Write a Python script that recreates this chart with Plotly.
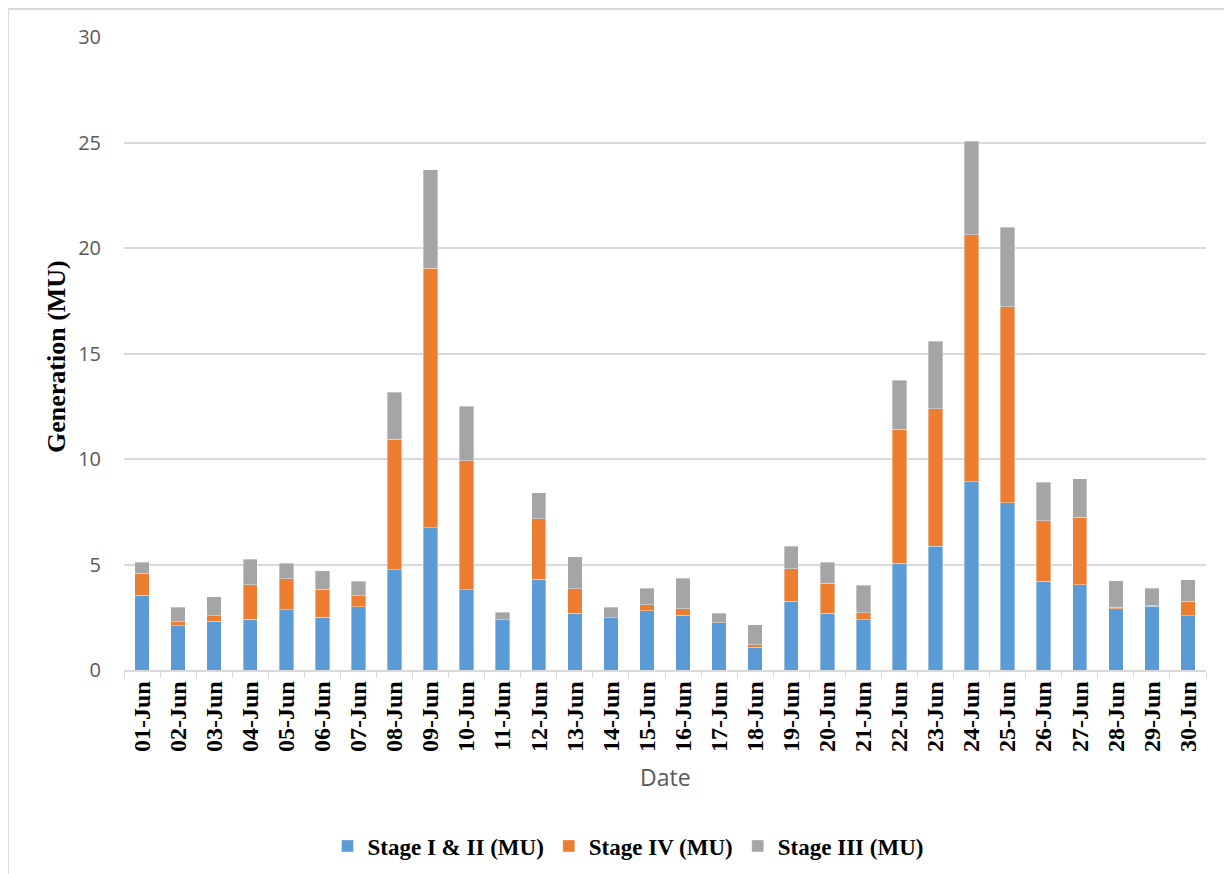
import plotly.graph_objects as go

dates = [f"{d:02d}-Jun" for d in range(1, 31)]
stage_1_2 = [3.55, 2.10, 2.31, 2.40, 2.86, 2.50, 3.00, 4.75, 6.74, 3.81, 2.38, 4.31, 2.69, 2.48, 2.80,
             2.59, 2.24, 1.08, 3.27, 2.69, 2.38, 5.06, 5.86, 8.92, 7.93, 4.20, 4.04, 2.91, 3.02, 2.57]
stage_4 = [1.03, 0.19, 0.26, 1.63, 1.47, 1.32, 0.52, 6.18, 12.30, 6.11, 0.00, 2.86, 1.16, 0.00, 0.30,
           0.32, 0.00, 0.12, 1.52, 1.42, 0.34, 6.35, 6.51, 11.70, 9.29, 2.88, 3.20, 0.06, 0.02, 0.69]
stage_3 = [0.52, 0.68, 0.89, 1.23, 0.74, 0.89, 0.68, 2.24, 4.66, 2.59, 0.35, 1.23, 1.51, 0.49, 0.77,
           1.45, 0.45, 0.95, 1.07, 0.99, 1.29, 2.32, 3.22, 4.44, 3.76, 1.82, 1.83, 1.25, 0.83, 1.02]

series = [
    ("Stage I & II (MU)", stage_1_2, "#5B9BD5"),
    ("Stage IV (MU)", stage_4, "#ED7D31"),
    ("Stage III (MU)", stage_3, "#A5A5A5"),
]

fig = go.Figure()
for name, vals, color in series:
    fig.add_trace(go.Bar(
        x=dates, y=vals, name=name,
        marker=dict(color=color, line=dict(color="rgba(255,255,255,0.6)", width=0.6)),
    ))

# page body has an 8px margin; work in screen coordinates and convert
OFF = 8
W, H = 1232 - OFF, 874 - OFF
L, R, T, B = 124 - OFF, 26, 37 - OFF, 874 - 670
pw, ph = W - L - R, H - T - B

def px(x):
    return (x - OFF - L) / pw

def py(y):
    return (H - B - (y - OFF)) / ph

fig.update_layout(
    width=W, height=H,
    margin=dict(l=L, r=R, t=T, b=B, autoexpand=False),
    barmode="stack",
    bargap=0.6,
    plot_bgcolor="white",
    paper_bgcolor="white",
    showlegend=True,
    legend=dict(
        orientation="h", x=px(628), xanchor="center", y=py(846), yanchor="middle",
        font=dict(family="Liberation Serif", size=23, color="black", weight="bold"),
        traceorder="normal", itemwidth=30,
    ),
    xaxis=dict(
        type="category",
        tickangle=-90,
        tickfont=dict(family="Liberation Serif", size=24, color="black", weight="bold"),
        showline=True, linecolor="#d9d9d9", linewidth=1.5,
        ticks="outside", tickson="boundaries", ticklen=6, tickcolor="#d9d9d9",
        showgrid=False, automargin=False,
    ),
    yaxis=dict(
        range=[0, 30], dtick=5,
        showgrid=True, gridcolor="#d9d9d9", gridwidth=1.5,
        zeroline=False, showline=False,
        tickfont=dict(family="Open Sans", size=20, color="#595959"),
        ticklabelstandoff=22, automargin=False,
    ),
    annotations=[
        dict(text="Date", xref="paper", yref="paper", x=0.5, y=py(777),
             xanchor="center", yanchor="middle", showarrow=False,
             font=dict(family="Open Sans", size=23, color="#595959")),
        dict(text="<b>Generation (MU)</b>", xref="paper", yref="paper", x=px(56), y=py(357),
             xanchor="center", yanchor="middle", showarrow=False, textangle=-90,
             font=dict(family="Liberation Serif", size=26, color="black")),
    ],
    shapes=[
        dict(type="line", xref="paper", yref="paper", x0=px(8), x1=px(1240), y0=py(9), y1=py(9),
             line=dict(color="#d9d9d9", width=2)),
        dict(type="line", xref="paper", yref="paper", x0=px(8), x1=px(8), y0=py(9), y1=py(880),
             line=dict(color="#d9d9d9", width=2)),
    ],
)

fig.write_html("out.html")
